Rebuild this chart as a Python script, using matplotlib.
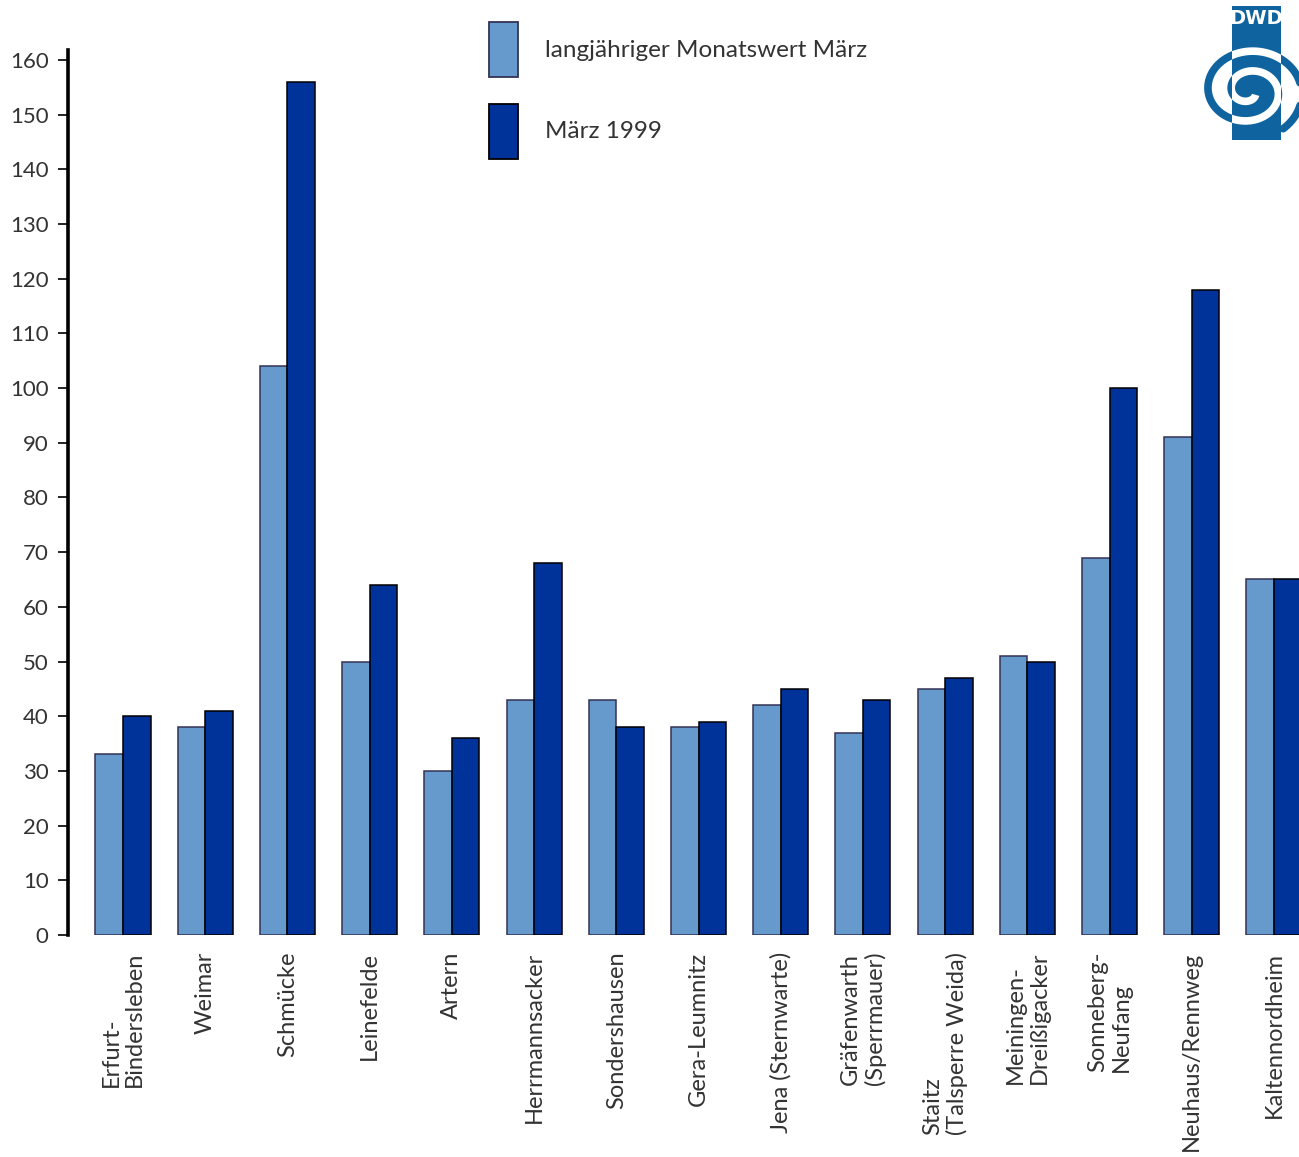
import numpy as np
import matplotlib.pyplot as plt
from matplotlib.patches import Patch, Rectangle

stations = ["Erfurt-\nBindersleben", "Weimar", "Schmücke", "Leinefelde", "Artern",
            "Herrmannsacker", "Sondershausen", "Gera-Leumnitz", "Jena (Sternwarte)",
            "Gräfenwarth\n(Sperrmauer)", "Staitz\n(Talsperre Weida)", "Meiningen-\nDreißigacker",
            "Sonneberg-\nNeufang", "Neuhaus/Rennweg", "Kaltennordheim"]
mittel = [33, 38, 104, 50, 30, 43, 43, 38, 42, 37, 45, 51, 69, 91, 65]
maerz_1999 = [40, 41, 156, 64, 36, 68, 38, 39, 45, 43, 47, 50, 100, 118, 65]
yticks = np.arange(0, 161, 10)

light = '#6699cc'
dark = '#003399'
txt = '#333333'

plt.rcParams['font.family'] = ['Lato', 'DejaVu Sans']

W, H = 1299, 1157
fig = plt.figure(figsize=(W / 100, H / 100), dpi=100)
ax = fig.add_axes([68 / W, 1 - 935 / H, (W - 68) / W, (935 - 50) / H])

x = np.arange(len(stations))
bw = 0.335
ax.bar(x - bw / 2, mittel, bw, color=light, edgecolor='#333355', linewidth=1.1)
ax.bar(x + bw / 2, maerz_1999, bw, color=dark, edgecolor='black', linewidth=1.1)

ax.set_xlim(-0.669, 14.304)
ax.set_ylim(0, 161.8)
for s in ['top', 'right', 'bottom']:
    ax.spines[s].set_visible(False)
ax.spines['left'].set_linewidth(2.6)
ax.set_yticks(yticks)
ax.set_yticklabels([str(v) for v in yticks], fontsize=16, color=txt)
ax.tick_params(axis='y', length=7, width=1.2, pad=7)
ax.set_xticks(x)
ax.set_xticklabels(stations, rotation=90, fontsize=17, color=txt,
                   multialignment='left', linespacing=1.15)
ax.tick_params(axis='x', length=0, pad=12)

handles = [Patch(facecolor=light, edgecolor='#333355', linewidth=1.3,
                 label='langjähriger Monatswert März'),
           Patch(facecolor=dark, edgecolor='black', linewidth=1.3, label='März 1999')]
fig.legend(handles=handles, loc='upper left', bbox_to_anchor=(489 / W, 1 - 22 / H),
           frameon=False, fontsize=17.5, handlelength=1.2, handleheight=3.1,
           labelspacing=1.1, handletextpad=1.1, borderpad=0, borderaxespad=0,
           labelcolor=txt)

# DWD logo
logo_blue = '#0f64a0'
lax = fig.add_axes([1185 / W, 1 - 145 / H, (W - 1185) / W, 145 / H])
lax.set_xlim(1185, 1299)
lax.set_ylim(145, 0)
lax.axis('off')
rect = Rectangle((1232, 6), 49, 134, facecolor=logo_blue, edgecolor='none')
lax.add_patch(rect)
lax.text(1256.5, 18, 'DWD', color='white', fontsize=14, fontweight='bold',
         ha='center', va='center', family='DejaVu Sans Condensed')
t = np.linspace(0, 4.1 * np.pi, 400)
r = 8 + 48 * t / t.max()
sx = 1249 + r * np.cos(t + 0.6) * 1.0
sy = 91 + r * np.sin(t + 0.6) * 0.85
lax.plot(sx, sy, color=logo_blue, lw=5.5, solid_capstyle='round')
clip = Rectangle((1232, 34), 49, 106, transform=lax.transData)
ln, = lax.plot(sx, sy, color='white', lw=5.5, solid_capstyle='butt')
ln.set_clip_path(clip)

fig.savefig('out.png', dpi=100)
